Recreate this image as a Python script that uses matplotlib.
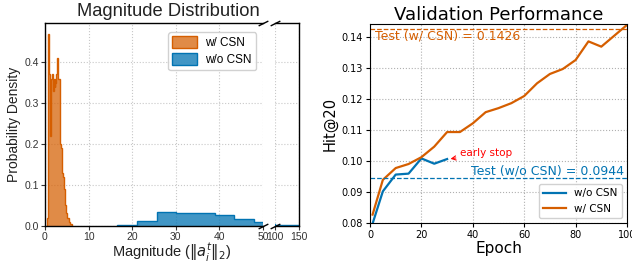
import matplotlib
matplotlib.use("Agg")
import matplotlib.pyplot as plt
from matplotlib.colors import to_rgba

BLUE = "#0173B2"
ORANGE = "#D55E00"

# magnitude histogram, w/ CSN (density per bin)
csn_edges = [0.4, 0.6, 0.8, 1.0, 1.2, 1.4, 1.6, 1.8, 2.0, 2.2, 2.4, 2.6, 2.8, 3.0,
             3.2, 3.4, 3.6, 3.8, 4.0, 4.2, 4.4, 4.6, 4.8, 5.0, 5.2, 5.4, 5.6, 5.8, 6.0, 6.2]
csn_density = [0.02, 0.19, 0.47, 0.37, 0.22, 0.36, 0.37, 0.33, 0.36, 0.34, 0.35, 0.37, 0.41,
               0.36, 0.36, 0.20, 0.19, 0.15, 0.13, 0.12, 0.09, 0.05, 0.03, 0.02, 0.02, 0.015,
               0.01, 0.005, 0.003]

# magnitude histogram, w/o CSN
nocsn_edges = [16.6, 21.0, 25.6, 30.0, 34.5, 39.0, 43.4, 47.9, 52.3]
nocsn_density = [0.002, 0.012, 0.033, 0.032, 0.032, 0.027, 0.016, 0.010]
nocsn_tail_edges = [96.0, 100.5, 105.0, 150.0]
nocsn_tail_density = [0.003, 0.0025, 0.002]

# validation curves
epochs_csn = [1, 5, 10, 15, 20, 25, 30, 35, 40, 45, 50, 55, 60, 65, 70, 75, 80, 85, 90, 95, 100]
hit_csn = [0.0827, 0.0939, 0.0977, 0.0990, 0.1012, 0.1046, 0.1093, 0.1093, 0.1121, 0.1157,
           0.1170, 0.1186, 0.1209, 0.1250, 0.1280, 0.1296, 0.1325, 0.1385, 0.1368, 0.1403, 0.1438]
epochs_nocsn = [1, 5, 10, 15, 20, 25, 30]
hit_nocsn = [0.0798, 0.0902, 0.0956, 0.0959, 0.1008, 0.0991, 0.1006]
test_csn = 0.1426
test_nocsn = 0.0944

W, H = 632, 265
fig = plt.figure(figsize=(W / 100, H / 100), dpi=100)


def rect(x0, y0, x1, y1):
    return [x0 / W, 1 - y1 / H, (x1 - x0) / W, (y1 - y0) / H]


LFONT = "Liberation Sans"
grid_kw = dict(color="#c8c8c8", linestyle=":", linewidth=0.8)

# ---- left: broken-axis histogram ----
ax1 = fig.add_axes(rect(45, 23.3, 263, 225.7))
ax2 = fig.add_axes(rect(275, 23.3, 299, 225.7), sharey=ax1)

for ax in (ax1, ax2):
    ax.set_axisbelow(True)
    ax.grid(True, **grid_kw)
    ax.tick_params(labelsize=7.5, length=3, width=0.8, colors="#333333", pad=1.5)

ax1.stairs(csn_density, csn_edges, fill=True, facecolor=to_rgba(ORANGE, 0.72),
           edgecolor=ORANGE, linewidth=1.0, label="w/ CSN")
ax1.stairs(nocsn_density, nocsn_edges, fill=True, facecolor=to_rgba(BLUE, 0.75),
           edgecolor=BLUE, linewidth=1.0, label="w/o CSN")
ax2.stairs(nocsn_tail_density, nocsn_tail_edges, fill=True, facecolor=to_rgba(BLUE, 0.75),
           edgecolor=BLUE, linewidth=1.0)

ax1.set_xlim(0, 50)
ax2.set_xlim(100, 150)
ax1.set_ylim(0, 0.495)
ax1.set_xticks([0, 10, 20, 30, 40, 50])
ax2.set_xticks([100, 150])
ax1.set_yticks([0.0, 0.1, 0.2, 0.3, 0.4])
ax1.set_yticklabels(["0.0", "0.1", "0.2", "0.3", "0.4"], fontfamily=LFONT)
ax1.set_xticklabels(["0", "10", "20", "30", "40", "50"], fontfamily=LFONT)
ax2.set_xticklabels(["100", "150"], fontfamily=LFONT)
ax2.tick_params(left=False, labelleft=False)
ax1.spines["right"].set_visible(False)
ax2.spines["left"].set_visible(False)
for ax in (ax1, ax2):
    for s in ax.spines.values():
        s.set_color("black")
        s.set_linewidth(1.0)

# break marks
d = 0.5
kw = dict(marker=[(-1, -d), (1, d)], markersize=7, linestyle="none", color="k",
          mec="k", mew=1, clip_on=False)
ax1.plot([1, 1], [0, 1], transform=ax1.transAxes, **kw)
ax2.plot([0, 0], [0, 1], transform=ax2.transAxes, **kw)

fig.text(168 / W, 1 - 11 / H, "Magnitude Distribution", fontsize=13.2, fontfamily=LFONT,
         color="#222222", ha="center", va="center")
ax1.set_ylabel("Probability Density", fontsize=10, fontfamily=LFONT, color="#222222", labelpad=2)
fig.text(172 / W, 1 - 264 / H, r"Magnitude ($\|a_i^t\|_2$)", fontsize=10.5, fontfamily=LFONT,
         color="#222222", ha="center", va="bottom")
ax1.legend(loc="upper right", bbox_to_anchor=(0.995, 0.985), prop={"family": LFONT, "size": 8.5},
           handlelength=2.1, handleheight=1.1, borderpad=0.35, labelspacing=0.35,
           handletextpad=0.7, framealpha=0.9, edgecolor="#cccccc", fancybox=True)

# ---- right: validation curves ----
ax3 = fig.add_axes(rect(370, 24, 627, 223))
ax3.set_axisbelow(True)
ax3.grid(True, color="#b0b0b0", linestyle=":", linewidth=0.8)
ax3.plot(epochs_nocsn, hit_nocsn, color=BLUE, linewidth=1.6, label="w/o CSN")
ax3.plot(epochs_csn, hit_csn, color=ORANGE, linewidth=1.6, label="w/ CSN")
ax3.axhline(test_csn, color=ORANGE, linestyle="--", linewidth=0.9)
ax3.axhline(test_nocsn, color=BLUE, linestyle="--", linewidth=0.9)
ax3.text(2, test_csn - 0.0004, f"Test (w/ CSN) = {test_csn}", color=ORANGE, fontsize=9,
         ha="left", va="top")
ax3.text(99, test_nocsn + 0.0004, f"Test (w/o CSN) = {test_nocsn}", color=BLUE, fontsize=9,
         ha="right", va="bottom")
ax3.annotate("early stop", xy=(30.8, hit_nocsn[-1]), xytext=(35, 0.1025), color="red",
             fontsize=7.5, va="center", ha="left",
             arrowprops=dict(arrowstyle="->", color="red", lw=0.8, shrinkA=1, shrinkB=1))
ax3.set_xlim(0, 100)
ax3.set_ylim(0.08, 0.1441)
ax3.set_xticks([0, 20, 40, 60, 80, 100])
ax3.set_yticks([0.08, 0.09, 0.10, 0.11, 0.12, 0.13, 0.14])
ax3.set_yticklabels(["0.08", "0.09", "0.10", "0.11", "0.12", "0.13", "0.14"])
ax3.tick_params(labelsize=7, length=3, width=0.8, pad=2)
ax3.set_title("Validation Performance", fontsize=13, pad=3)
ax3.set_xlabel("Epoch", fontsize=11, labelpad=1)
ax3.set_ylabel("Hit@20", fontsize=10.5, labelpad=3)
ax3.legend(loc="lower right", fontsize=7.5, handlelength=2.2, framealpha=0.9, edgecolor="#cccccc")

fig.savefig("out.png", dpi=100)
